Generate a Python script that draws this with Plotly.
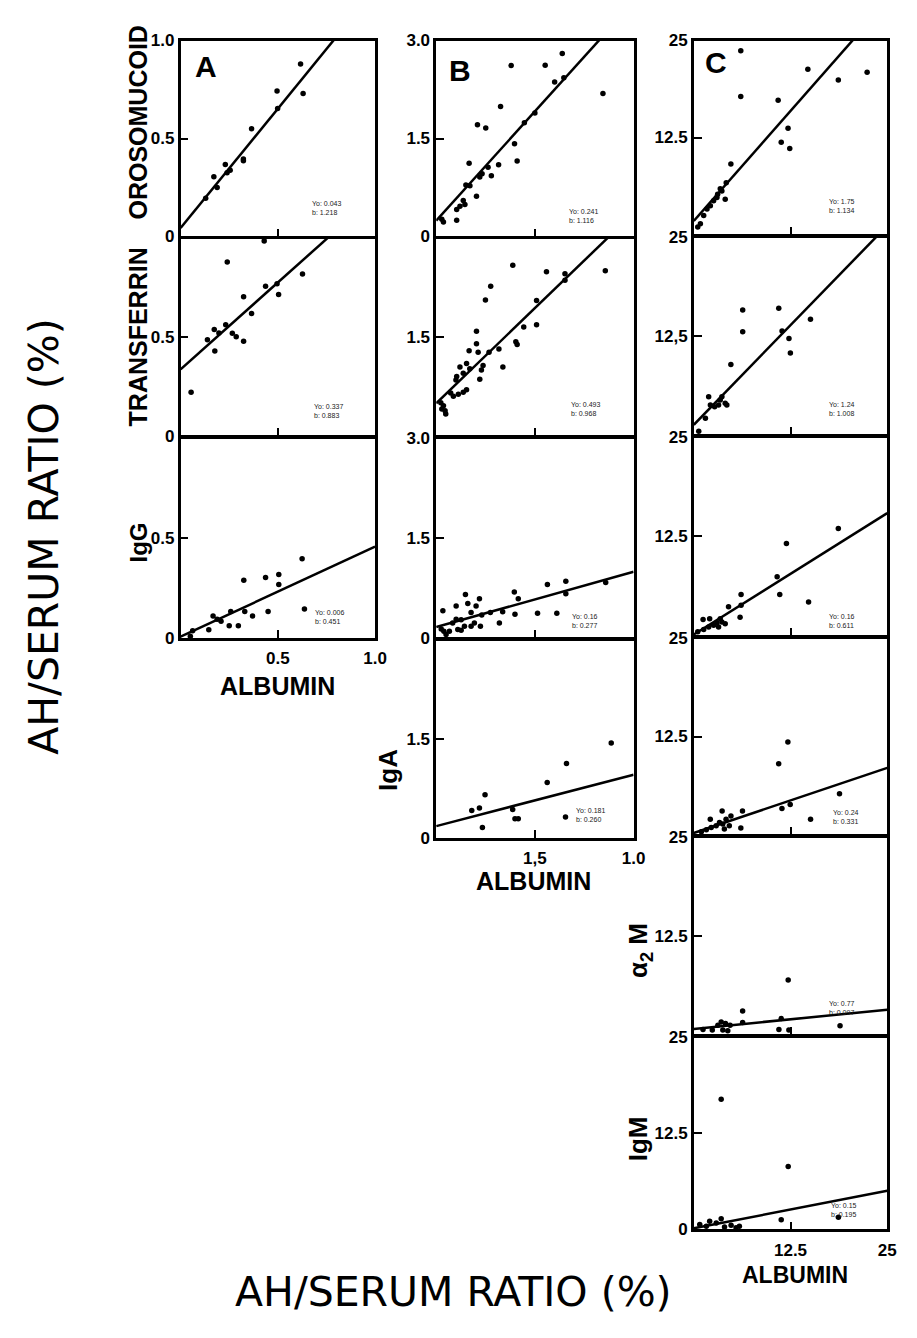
import plotly.graph_objects as go

W, H = 917, 1338

# ---------------- data: (albumin ratio, protein ratio) per panel ----------------
a_oroso_x = [0.617, 0.496, 0.630, 0.499, 0.365, 0.323, 0.323, 0.230, 0.255, 0.239, 0.171, 0.188, 0.129]
a_oroso_y = [0.880, 0.742, 0.730, 0.653, 0.550, 0.395, 0.387, 0.367, 0.338, 0.325, 0.305, 0.250, 0.195]

a_transf_x = [0.240, 0.627, 0.437, 0.496, 0.504, 0.324, 0.365, 0.232, 0.173, 0.197, 0.138, 0.266, 0.286, 0.324, 0.176, 0.054, 0.430]
a_transf_y = [0.883, 0.822, 0.760, 0.772, 0.718, 0.706, 0.621, 0.564, 0.539, 0.522, 0.487, 0.520, 0.503, 0.480, 0.430, 0.220, 0.990]

a_igg_x = [0.625, 0.325, 0.437, 0.505, 0.505, 0.637, 0.450, 0.370, 0.330, 0.258, 0.297, 0.250, 0.167, 0.188, 0.145, 0.062, 0.050, 0.208]
a_igg_y = [0.396, 0.289, 0.302, 0.318, 0.267, 0.145, 0.132, 0.110, 0.132, 0.132, 0.061, 0.061, 0.110, 0.094, 0.041, 0.036, 0.008, 0.083]

b_oroso_x = [1.916, 1.656, 1.139, 2.534, 1.800, 1.940, 1.500, 1.340, 0.978, 0.627, 0.753, 1.190, 1.230, 0.500, 0.948,
             0.788, 0.838, 0.697, 0.662, 0.512, 0.451, 0.612, 0.411, 0.361, 0.311, 0.436, 0.110, 0.311, 0.085]
b_oroso_y = [2.800, 2.620, 2.617, 2.190, 2.365, 2.430, 1.890, 1.740, 1.990, 1.710, 1.660, 1.420, 1.155, 1.120, 1.100,
             1.060, 0.930, 0.960, 0.910, 0.776, 0.790, 0.615, 0.550, 0.464, 0.413, 0.490, 0.220, 0.247, 0.262]

b_transf_x = [1.164, 1.676, 2.570, 1.957, 1.957, 0.828, 0.748, 1.525, 1.525, 1.330, 0.612, 0.612, 1.230, 1.210, 0.500,
              0.637, 0.953, 0.803, 1.013, 0.361, 0.461, 0.510, 0.662, 0.712, 0.687, 0.311, 0.411, 0.300, 0.461, 0.411,
              0.336, 0.261, 0.220, 0.110, 0.135, 0.085, 0.145, 0.070]
b_transf_y = [2.600, 2.500, 2.515, 2.470, 2.370, 2.280, 2.070, 2.060, 1.690, 1.656, 1.590, 1.400, 1.390, 1.430, 1.295,
              1.270, 1.320, 1.270, 1.048, 1.048, 1.100, 1.020, 0.860, 1.070, 1.000, 0.900, 0.950, 0.850, 0.700, 0.660,
              0.630, 0.600, 0.650, 0.455, 0.380, 0.405, 0.330, 0.500]

b_igg_x = [1.970, 1.690, 2.576, 1.970, 1.187, 1.247, 0.444, 0.657, 0.480, 0.303, 0.101, 0.606, 0.530, 0.823, 1.010,
           1.197, 1.540, 1.833, 0.692, 0.379, 0.303, 0.960, 0.530, 0.429, 0.328, 0.200, 0.116, 0.150, 0.076, 0.672,
           0.580, 0.250, 0.379]
b_igg_y = [0.847, 0.800, 0.830, 0.660, 0.685, 0.587, 0.650, 0.587, 0.514, 0.475, 0.406, 0.475, 0.377, 0.377, 0.390,
           0.352, 0.367, 0.367, 0.342, 0.269, 0.279, 0.220, 0.171, 0.171, 0.122, 0.098, 0.098, 0.049, 0.132, 0.171,
           0.220, 0.220, 0.112]

b_iga_x = [2.660, 1.980, 1.687, 0.742, 0.540, 0.657, 1.162, 1.197, 1.247, 0.702, 1.965]
b_iga_y = [1.440, 1.130, 0.844, 0.656, 0.417, 0.457, 0.432, 0.293, 0.293, 0.159, 0.318]

c_oroso_x = [6.07, 14.74, 18.68, 22.40, 6.07, 10.90, 12.18, 11.30, 12.40, 4.79, 4.19, 3.42, 4.06, 3.08, 2.56,
             2.14, 1.71, 1.28, 0.85, 0.51, 2.99, 3.63]
c_oroso_y = [23.70, 21.30, 19.90, 20.90, 17.80, 17.30, 13.70, 11.90, 11.10, 9.10, 6.66, 5.90, 4.55, 5.19, 4.34,
             3.71, 3.29, 2.45, 1.39, 0.97, 4.76, 5.60]

c_transf_x = [6.32, 10.98, 15.08, 6.32, 11.41, 12.30, 12.48, 4.79, 1.92, 2.14, 3.63, 3.20, 4.06, 2.69, 1.50, 0.64, 3.42, 4.27]
c_transf_y = [15.75, 16.00, 14.58, 13.00, 13.10, 12.17, 10.33, 8.88, 4.79, 3.75, 4.79, 3.75, 3.96, 3.54, 2.08, 0.42, 4.38, 3.75]

c_igg_x = [18.68, 11.97, 10.77, 11.11, 14.83, 6.11, 6.11, 5.98, 4.49, 1.20, 2.05, 3.42, 3.63, 2.99, 2.56, 1.92,
           1.28, 0.51, 4.06, 3.20]
c_igg_y = [13.48, 11.60, 7.43, 5.19, 4.25, 5.19, 3.84, 2.33, 3.64, 2.04, 2.12, 2.12, 1.72, 1.59, 1.31, 1.10,
           0.78, 0.49, 1.51, 1.10]

c_iga_x = [12.16, 10.97, 18.83, 12.46, 11.39, 15.09, 6.29, 6.08, 3.66, 2.13, 4.80, 4.17, 3.32, 2.89, 2.25, 1.62,
           0.98, 4.59, 3.95, 3.74]
c_iga_y = [11.80, 9.04, 5.22, 3.86, 3.36, 1.99, 3.03, 0.87, 3.03, 1.99, 2.40, 1.99, 1.58, 1.16, 0.95, 0.66,
           0.41, 1.16, 0.75, 1.37]

c_a2m_x = [12.20, 6.31, 18.90, 11.00, 12.29, 11.30, 3.54, 4.10, 3.11, 4.69, 6.31, 1.19, 2.39, 3.75, 4.39]
c_a2m_y = [6.94, 3.02, 1.16, 0.70, 0.62, 2.07, 1.65, 1.45, 1.24, 1.24, 1.57, 0.70, 0.62, 0.62, 0.54]

c_igm_x = [3.54, 12.20, 18.69, 11.30, 3.54, 2.05, 2.90, 0.77, 1.62, 4.82, 5.89, 5.46, 3.97]
c_igm_y = [16.95, 8.18, 1.57, 1.27, 1.40, 1.06, 0.85, 0.64, 0.42, 0.55, 0.42, 0.21, 0.30]

# regression intercepts (Yo) and slopes (b)
a_fit = [(0.043, 1.218), (0.337, 0.883), (0.006, 0.451)]
b_fit = [(0.241, 1.116), (0.493, 0.968), (0.160, 0.277), (0.181, 0.260)]
c_fit = [(1.75, 1.134), (1.24, 1.008), (0.16, 0.611), (0.24, 0.331), (0.77, 0.097), (0.15, 0.195)]

# ---------------- layout of the panel grid (pixels) ----------------
LW = 2.5
col_x = {"A": (183, 380), "B": (442, 642), "C": (703, 899)}
rows = {
    "A": [(32, 232), (232, 434), (434, 638)],
    "B": [(32, 232), (232, 434), (434, 639), (639, 841)],
    "C": [(32, 230), (230, 433), (433, 637), (637, 839), (839, 1042), (1042, 1238)],
}
xmax = {"A": 1.0, "B": 3.0, "C": 25.0}
ymax = {"A": 1.0, "B": 3.0, "C": 25.0}

data = {
    "A": [(a_oroso_x, a_oroso_y), (a_transf_x, a_transf_y), (a_igg_x, a_igg_y)],
    "B": [(b_oroso_x, b_oroso_y), (b_transf_x, b_transf_y), (b_igg_x, b_igg_y), (b_iga_x, b_iga_y)],
    "C": [(c_oroso_x, c_oroso_y), (c_transf_x, c_transf_y), (c_igg_x, c_igg_y),
          (c_iga_x, c_iga_y), (c_a2m_x, c_a2m_y), (c_igm_x, c_igm_y)],
}
fits = {"A": a_fit, "B": b_fit, "C": c_fit}

# y tick values / labels shown on each panel (shared edges labelled once)
ytick_cfg = {
    "A": [([0, 0.5, 1.0], ["0", "0.5", "1.0"]), ([0, 0.5], ["0", "0.5"]), ([0, 0.5], ["0", "0.5"])],
    "B": [([0, 1.5, 3.0], ["0", "1.5", "3.0"]), ([1.5], ["1.5"]), ([0, 1.5, 3.0], ["0", "1.5", "3.0"]),
          ([0, 1.5], ["0", "1.5"])],
    "C": [([12.5, 25], ["12.5", "25"]), ([12.5, 25], ["12,5", "25"]), ([12.5, 25], ["12.5", "25"]),
          ([12.5, 25], ["12.5", "25"]), ([12.5, 25], ["12.5", "25"]), ([0, 12.5, 25], ["0", "12.5", "25"])],
}
xtick_cfg = {
    "A": ([0.5, 1.0], ["0.5", "1.0"]),
    "B": ([1.5, 3.0], ["1,5", "1.0"]),
    "C": ([12.5, 25], ["12.5", "25"]),
}

# regression label positions (pixels, left / top)
fit_text_pos = {
    "A": [(314, 192), (316, 398), (317, 607)],
    "B": [(575, 200), (577, 396), (578, 611), (582, 807)],
    "C": [(838, 190), (838, 396), (838, 611), (842, 810), (838, 1003), (840, 1208)],
}

FONT = "Liberation Sans"
BIG_FONT = "DejaVu Sans"
fig = go.Figure()
layout = {}
annotations = []


def px_x(p):
    return p / W


def px_y(p):
    return 1 - p / H


def label(text, x, y, size, bold=True, angle=0, family=FONT):
    font = dict(family=family, size=size, color="black")
    if bold:
        font["weight"] = "bold"
    annotations.append(dict(
        x=px_x(x), y=px_y(y), xref="paper", yref="paper", xanchor="center", yanchor="middle",
        text=text, textangle=angle, showarrow=False, font=font,
    ))


idx = 0
for col in ["A", "B", "C"]:
    x0, x1 = col_x[col]
    nrows = len(rows[col])
    for r, (ytop, ybot) in enumerate(rows[col]):
        idx += 1
        xa = "xaxis" if idx == 1 else f"xaxis{idx}"
        ya = "yaxis" if idx == 1 else f"yaxis{idx}"
        xref = "x" if idx == 1 else f"x{idx}"
        yref = "y" if idx == 1 else f"y{idx}"
        last = r == nrows - 1
        # shift inner edges so neighbouring frame lines fall on the same pixel row
        top = ytop + (LW / 2 if r > 0 else 0)
        bot = ybot - (LW / 2 if not last else 0)
        xt, xl = xtick_cfg[col]
        yt, yl = ytick_cfg[col][r]
        xaxis = dict(
            domain=[px_x(x0), px_x(x1)], range=[0, xmax[col]], anchor=yref,
            showgrid=False, zeroline=False, showline=True, linecolor="black", linewidth=LW,
            mirror=True, ticks="inside", ticklen=8, tickwidth=1.5, tickcolor="black",
            tickfont=dict(family=FONT, size=17, color="black", weight="bold"),
        )
        if last:
            xaxis.update(tickmode="array", tickvals=xt, ticktext=xl, showticklabels=True, ticklabelstandoff=3)
        else:
            xaxis.update(tickmode="array", tickvals=[xmax[col] / 2], showticklabels=False)
        layout[xa] = xaxis
        layout[ya] = dict(
            domain=[px_y(bot), px_y(top)], range=[0, ymax[col]], anchor=xref,
            showgrid=False, zeroline=False, showline=True, linecolor="black", linewidth=LW,
            mirror=True, ticks="inside", ticklen=8, tickwidth=1.5, tickcolor="black",
            tickmode="array", tickvals=yt, ticktext=yl,
            tickfont=dict(family=FONT, size=17, color="black", weight="bold"),
        )
        xs, ys = data[col][r]
        fig.add_trace(go.Scatter(
            x=xs, y=ys, mode="markers", xaxis=xref, yaxis=yref,
            marker=dict(color="black", size=5.5), showlegend=False, cliponaxis=True,
        ))
        y0, b = fits[col][r]
        fig.add_trace(go.Scatter(
            x=[0, xmax[col]], y=[y0, y0 + b * xmax[col]], mode="lines",
            xaxis=xref, yaxis=yref, line=dict(color="black", width=2.5), showlegend=False,
        ))
        tx, ty = fit_text_pos[col][r]
        annotations.append(dict(
            x=px_x(tx), y=px_y(ty), xref="paper", yref="paper", xanchor="left", yanchor="top",
            text=f"Yo: {y0:g}<br>b: {b:.3f}", showarrow=False, align="left",
            font=dict(family=FONT, size=7, color="#222"),
        ))

# panel letters
label("A", 209, 58, 30)
label("B", 466, 62, 30)
label("C", 726, 54, 30)

# protein names along the y axes
label("OROSOMUCOID", 140, 115, 25, angle=-90)
label("TRANSFERRIN", 140, 333, 25, angle=-90)
label("IgG", 140, 541, 24, angle=-90)
label("IgA", 393, 772, 26, angle=-90)
label("α<sub>2</sub> M", 648, 955, 26, angle=-90)
label("IgM", 646, 1146, 26, angle=-90)

# x-axis names
label("ALBUMIN", 281, 687, 25)
label("ALBUMIN", 541, 885, 25)
label("ALBUMIN", 806, 1284, 23)

# overall axis titles
label("AH/SERUM RATIO (%)", 45, 535, 41, bold=False, angle=-90, family=BIG_FONT)
label("AH/SERUM RATIO (%)", 460, 1301, 41, bold=False, family=BIG_FONT)

fig.update_layout(
    width=W, height=H, margin=dict(l=0, r=0, t=0, b=0),
    paper_bgcolor="white", plot_bgcolor="white",
    annotations=annotations, **layout,
)
fig.write_html("out.html")
